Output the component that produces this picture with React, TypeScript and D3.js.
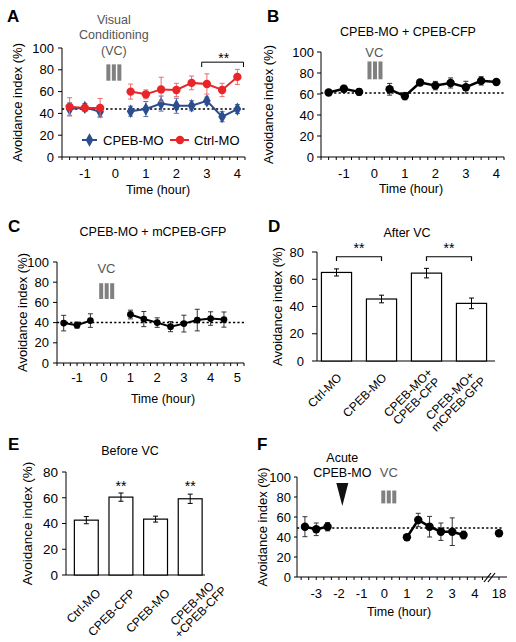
import React from "react";
import * as d3 from "d3";

const FONT = "'Liberation Sans', Arial, Helvetica, sans-serif";
const RED = "#e8262a";
const BLUE = "#2c4d8e";
const GRAY = "#808080";
const TXT_GRAY = "#555555";

// ---------- Panel A ----------
const aTimesPre = [-1.5, -1, -0.5];
const aTimesPost = [0.5, 1, 1.5, 2, 2.5, 3, 3.5, 4];
const aCtrlPre = [46, 45, 45];
const aCtrlPreErr = [8.4, 2.3, 8.7];
const aCtrlPost = [60, 57.5, 62, 61.5, 68, 67, 61.5, 73.5];
const aCtrlPostErr = [6.9, 4.1, 11.2, 6.1, 6.3, 9.3, 6.1, 6.9];
const aCpebPre = [44, 45.5, 41.5];
const aCpebPreErr = [5.7, 3.5, 4.6];
const aCpebPost = [42, 44, 49, 47, 47, 51.5, 37, 44];
const aCpebPostErr = [4.6, 6.9, 6.9, 6.9, 4.6, 3.5, 4.6, 4.1];
const aBaseline = 44;
const aXLabels = [-1, 0, 1, 2, 3, 4];

// ---------- Panel B ----------
const bTimesPre = [-1.5, -1, -0.5];
const bTimesPost = [0.5, 1, 1.5, 2, 2.5, 3, 3.5, 4];
const bPre = [61.5, 65, 62];
const bPreErr = [2, 3.2, 3.2];
const bPost = [64.5, 58, 71, 68, 70.5, 66.5, 72.5, 71.5];
const bPostErr = [5.6, 3.5, 2.4, 4, 4.8, 5.6, 4, 1.5];
const bBaseline = 61;
const bXLabels = [-1, 0, 1, 2, 3, 4];

// ---------- Panel C ----------
const cTimesPre = [-1.5, -1, -0.5];
const cTimesPost = [1, 1.5, 2, 2.5, 3, 3.5, 4, 4.5];
const cPre = [39.5, 37.5, 42];
const cPreErr = [7.7, 3, 6.7];
const cPost = [48, 43.5, 40, 36, 39, 42.5, 44, 43];
const cPostErr = [4.3, 7.5, 4.7, 5, 8.3, 10.7, 6.7, 7.5];
const cBaseline = 40;
const cXLabels = [-1, 0, 1, 2, 3, 4, 5];

// ---------- Panel D ----------
const dCats = ["Ctrl-MO", "CPEB-MO", "CPEB-MO+CPEB-CFP", "CPEB-MO+mCPEB-GFP"];
const dLabelLines = [["Ctrl-MO"], ["CPEB-MO"], ["CPEB-MO+", "CPEB-CFP"], ["CPEB-MO+", "mCPEB-GFP"]];
const dVals = [65, 45.5, 64.5, 42.3];
const dErrs = [2.6, 2.8, 3.5, 3.9];
const dSigPairs = [[0, 1], [2, 3]];

// ---------- Panel E ----------
const eCats = ["Ctrl-MO", "CPEB-CFP", "CPEB-MO", "CPEB-MO+CPEB-CFP"];
const eLabelLines = [["Ctrl-MO"], ["CPEB-CFP"], ["CPEB-MO"], ["CPEB-MO", "+CPEB-CFP"]];
const eVals = [42.6, 60.5, 43.4, 59.2];
const eErrs = [2.8, 3.2, 2.3, 3.6];
const eSig = [1, 3];

// ---------- Panel F ----------
const fTimesPre = [-3.5, -3, -2.5];
const fTimesPost = [1, 1.5, 2, 2.5, 3, 3.5];
const fTimesLate = [18];
const fPre = [50.3, 47.7, 50.3];
const fPreErr = [10, 6.3, 4.2];
const fPost = [39.7, 57, 50.3, 45.3, 45.3, 42];
const fPostErr = [2.8, 6.7, 10.3, 8.7, 13.8, 3.8];
const fLate = [43.7];
const fLateErr = [2.5];
const fBaseline = 49;
const fXLabels = [-3, -2, -1, 0, 1, 2, 3, 4, 18];
const fAcuteTime = -1.85;

const yTicks100 = [0, 20, 40, 60, 80, 100];
const yTicks80 = [0, 20, 40, 60, 80];

type Seg = { t: number[]; v: number[]; e: number[] };

let measureCtx: CanvasRenderingContext2D | null = null;
function textWidth(s: string, fs: number) {
  if (!measureCtx) measureCtx = document.createElement("canvas").getContext("2d");
  if (!measureCtx) return s.length * fs * 0.6;
  measureCtx.font = `${fs}px 'Liberation Sans', Arial, sans-serif`;
  return measureCtx.measureText(s).width;
}

function YAxis({ x0, y, ticks, tickLen, gap, fs = 13 }: any) {
  const d = y.domain();
  return (
    <g>
      <line x1={x0} x2={x0} y1={y(d[0])} y2={y(d[1])} stroke="#000" strokeWidth={1} />
      {ticks.map((t: number) => (
        <g key={t}>
          <line x1={x0 - tickLen} x2={x0} y1={y(t)} y2={y(t)} stroke="#000" strokeWidth={1} />
          <text x={x0 - tickLen - gap} y={y(t)} dy="0.36em" textAnchor="end" fontSize={fs}>
            {t}
          </text>
        </g>
      ))}
    </g>
  );
}

function XTimeAxis({ x, y0, x0, x1, minor, labels, labelDy, tickLen = 3, fs = 13 }: any) {
  return (
    <g>
      <line x1={x0} x2={x1} y1={y0} y2={y0} stroke="#000" strokeWidth={1} />
      {minor.map((t: number, i: number) => (
        <line key={i} x1={x(t)} x2={x(t)} y1={y0} y2={y0 + tickLen} stroke="#000" strokeWidth={1} />
      ))}
      {labels.map((t: number) => (
        <text key={t} x={x(t)} y={y0 + labelDy} textAnchor="middle" fontSize={fs}>
          {t}
        </text>
      ))}
    </g>
  );
}

function YTitle({ x, y, fs = 13 }: any) {
  return (
    <text transform={`translate(${x},${y}) rotate(-90)`} dy="0.35em" textAnchor="middle" fontSize={fs}>
      Avoidance index (%)
    </text>
  );
}

function Series({ segs, x, y, color, errColor, lw, marker, r }: any) {
  const line = d3
    .line<[number, number]>()
    .x((d) => x(d[0]))
    .y((d) => y(d[1]));
  const diamond = d3.symbol().type(d3.symbolDiamond).size(r * r * 3.2)() as string;
  return (
    <g>
      {segs.map((s: Seg, si: number) => {
        const pts: [number, number][] = s.t.map((t, i) => [t, s.v[i]]);
        return (
          <g key={si}>
            {s.t.map((t, i) => {
              const cx = x(t);
              const lo = y(s.v[i] - s.e[i]);
              const hi = y(s.v[i] + s.e[i]);
              return (
                <g key={i} stroke={errColor} strokeWidth={1}>
                  <line x1={cx} x2={cx} y1={lo} y2={hi} />
                  <line x1={cx - 2.5} x2={cx + 2.5} y1={lo} y2={lo} />
                  <line x1={cx - 2.5} x2={cx + 2.5} y1={hi} y2={hi} />
                </g>
              );
            })}
            {pts.length > 1 && <path d={line(pts) as string} fill="none" stroke={color} strokeWidth={lw} />}
            {pts.map((p, i) =>
              marker === "diamond" ? (
                <path key={i} d={diamond} transform={`translate(${x(p[0])},${y(p[1])})`} fill={color} />
              ) : (
                <circle key={i} cx={x(p[0])} cy={y(p[1])} r={r} fill={color} />
              )
            )}
          </g>
        );
      })}
    </g>
  );
}

function Dotted({ x0, x1, yv }: any) {
  return <line x1={x0} x2={x1} y1={yv} y2={yv} stroke="#000" strokeWidth={1.5} strokeDasharray="2.2 2.2" />;
}

function VCBars({ cx, yTop, yBot }: any) {
  return (
    <g fill={GRAY}>
      {[-1, 0, 1].map((k) => (
        <rect key={k} x={cx + k * 5.5 - 2} y={yTop} width={4} height={yBot - yTop} />
      ))}
    </g>
  );
}

function BarPanel({ cats, lines, vals, errs, x, y, axisX0, axisX1, tickLen, gap, ldx, ldy, mdx, mdy, lh, fs = 12, tfs = 13 }: any) {
  const y0 = y(0);
  const bw = x.bandwidth();
  return (
    <g>
      <line x1={axisX0} x2={axisX1} y1={y0} y2={y0} stroke="#000" strokeWidth={1} />
      <YAxis x0={axisX0} y={y} ticks={yTicks80} tickLen={tickLen} gap={gap} fs={tfs} />
      {cats.map((c: string, i: number) => {
        const bx = x(c);
        const cx = bx + bw / 2;
        const top = y(vals[i]);
        const lo = y(vals[i] - errs[i]);
        const hi = y(vals[i] + errs[i]);
        const ls: string[] = lines[i];
        const n = ls.length;
        const widths = ls.map((s) => textWidth(s, fs));
        const maxW = Math.max(...widths);
        const ax = cx + ldx + (n > 1 ? mdx : 0);
        const ay = y0 + ldy + (n > 1 ? mdy : 0);
        return (
          <g key={c}>
            <rect x={bx} y={top} width={bw} height={y0 - top} fill="#fff" stroke="#000" strokeWidth={1.2} />
            <g stroke="#000" strokeWidth={1}>
              <line x1={cx} x2={cx} y1={lo} y2={hi} />
              <line x1={cx - 2.5} x2={cx + 2.5} y1={lo} y2={lo} />
              <line x1={cx - 2.5} x2={cx + 2.5} y1={hi} y2={hi} />
            </g>
            <g transform={`translate(${ax},${ay}) rotate(-45)`}>
              {ls.map((ln: string, j: number) => (
                <text
                  key={j}
                  x={-(maxW - widths[j]) / 2}
                  y={(j - (n - 1) / 2) * lh}
                  dy="0.35em"
                  textAnchor="end"
                  fontSize={fs}
                >
                  {ln}
                </text>
              ))}
            </g>
          </g>
        );
      })}
    </g>
  );
}

export default function App() {
  // scales
  const xA = d3.scaleLinear().domain([-1.75, 4.25]).range([62, 245]);
  const yA = d3.scaleLinear().domain([0, 100]).range([157, 48]);
  const xB = d3.scaleLinear().domain([-1.75, 4.25]).range([321, 504]);
  const yB = d3.scaleLinear().domain([0, 100]).range([157, 52]);
  const xC = d3.scaleLinear().domain([-1.75, 5.25]).range([57, 244]);
  const yC = d3.scaleLinear().domain([0, 100]).range([363, 262]);
  const xD = d3.scaleBand<string>().domain(dCats).range([314, 494]).paddingInner(0.33).paddingOuter(0.165);
  const yD = d3.scaleLinear().domain([0, 80]).range([361, 252]);
  const xE = d3.scaleBand<string>().domain(eCats).range([69, 207.5]).paddingInner(0.31).paddingOuter(0.155);
  const yE = d3.scaleLinear().domain([0, 80]).range([575, 472]);
  const xF = d3.scaleLinear().domain([-3.85, 4.6, 17.6, 18.4]).range([297, 488.5, 490, 508]);
  const yF = d3.scaleLinear().domain([0, 100]).range([577, 477]);

  const minorA = d3.range(-1.75, 4.26, 0.25);
  const minorB = d3.range(-1.75, 4.26, 0.25);
  const minorC = d3.range(-1.75, 5.26, 0.25);
  const minorF = d3.range(-11, 14).map((k) => k / 3).concat([18]);

  const dC = (c: string) => (xD(c) as number) + xD.bandwidth() / 2;
  const eC = (c: string) => (xE(c) as number) + xE.bandwidth() / 2;

  const letter = (t: string, x: number, y: number) => (
    <text x={x} y={y} fontSize={17} fontWeight="bold">
      {t}
    </text>
  );

  return (
    <svg
      width={516}
      height={642}
      style={{ position: "absolute", left: 0, top: 0, display: "block" }}
      fontFamily={FONT}
    >
      <rect width={516} height={642} fill="#fff" />

      {/* ===== Panel A ===== */}
      {letter("A", 7, 22)}
      <g fill={TXT_GRAY} fontSize={12.5} textAnchor="middle">
        <text x={xA(-0.05)} y={23.5}>Visual</text>
        <text x={xA(-0.05)} y={38.5}>Conditioning</text>
        <text x={xA(-0.05)} y={54.5}>(VC)</text>
      </g>
      <VCBars cx={xA(-0.05)} yTop={yA(85)} yBot={yA(70)} />
      <YTitle x={17} y={yA(50)} />
      <YAxis x0={62} y={yA} ticks={yTicks100} tickLen={4} gap={4} />
      <XTimeAxis x={xA} y0={yA(0)} x0={62} x1={245} minor={minorA} labels={aXLabels} labelDy={20.5} />
      <text x={158} y={193.5} textAnchor="middle" fontSize={12.5}>Time (hour)</text>
      <Dotted x0={62} x1={246} yv={yA(aBaseline)} />
      <Series
        segs={[
          { t: aTimesPre, v: aCpebPre, e: aCpebPreErr },
          { t: aTimesPost, v: aCpebPost, e: aCpebPostErr },
        ]}
        x={xA} y={yA} color={BLUE} errColor="#5a74a8" lw={2} marker="diamond" r={4}
      />
      <Series
        segs={[
          { t: aTimesPre, v: aCtrlPre, e: aCtrlPreErr },
          { t: aTimesPost, v: aCtrlPost, e: aCtrlPostErr },
        ]}
        x={xA} y={yA} color={RED} errColor="#ee6a6a" lw={2} marker="circle" r={4.2}
      />
      {/* significance bracket */}
      <path
        d={`M${xA(2.83)},${yA(82.5)}V${yA(87)}H${xA(4.2)}V${yA(82.5)}`}
        fill="none" stroke="#000" strokeWidth={1}
      />
      <text x={xA(3.55)} y={62.5} textAnchor="middle" fontSize={14}>**</text>
      {/* legend */}
      <line x1={82} x2={97} y1={140} y2={140} stroke={BLUE} strokeWidth={2} />
      <path d={d3.symbol().type(d3.symbolDiamond).size(51)() as string} transform="translate(89.5,140)" fill={BLUE} />
      <text x={103} y={144.5} fontSize={13}>CPEB-MO</text>
      <line x1={170} x2={189} y1={140} y2={140} stroke={RED} strokeWidth={2} />
      <circle cx={180} cy={140} r={4.2} fill={RED} />
      <text x={194} y={144.5} fontSize={13}>Ctrl-MO</text>

      {/* ===== Panel B ===== */}
      {letter("B", 267, 22)}
      <text x={408} y={36} textAnchor="middle" fontSize={12.5}>CPEB-MO + CPEB-CFP</text>
      <text x={xB(0)} y={56.5} textAnchor="middle" fontSize={13} fill={TXT_GRAY}>VC</text>
      <VCBars cx={xB(0.02)} yTop={yB(91)} yBot={yB(74)} />
      <YTitle x={268} y={yB(50)} />
      <YAxis x0={321} y={yB} ticks={yTicks100} tickLen={4} gap={3} />
      <XTimeAxis x={xB} y0={yB(0)} x0={321} x1={504} minor={minorB} labels={bXLabels} labelDy={20.5} />
      <text x={411} y={192.5} textAnchor="middle" fontSize={12.5}>Time (hour)</text>
      <Dotted x0={321} x1={504} yv={yB(bBaseline)} />
      <Series
        segs={[
          { t: bTimesPre, v: bPre, e: bPreErr },
          { t: bTimesPost, v: bPost, e: bPostErr },
        ]}
        x={xB} y={yB} color="#000" errColor="#333" lw={2.5} marker="circle" r={4.2}
      />

      {/* ===== Panel C ===== */}
      {letter("C", 8, 232)}
      <text x={153} y={236} textAnchor="middle" fontSize={12.5}>CPEB-MO + mCPEB-GFP</text>
      <text x={xC(0.1)} y={272.5} textAnchor="middle" fontSize={13} fill={TXT_GRAY}>VC</text>
      <VCBars cx={xC(0.11)} yTop={yC(79)} yBot={yC(63.4)} />
      <YTitle x={22} y={yC(50)} />
      <YAxis x0={57} y={yC} ticks={yTicks100} tickLen={4} gap={4} />
      <XTimeAxis x={xC} y0={yC(0)} x0={57} x1={244} minor={minorC} labels={cXLabels} labelDy={18.5} />
      <text x={163} y={402.5} textAnchor="middle" fontSize={12.5}>Time (hour)</text>
      <Dotted x0={57} x1={245} yv={yC(cBaseline)} />
      <Series
        segs={[
          { t: cTimesPre, v: cPre, e: cPreErr },
          { t: cTimesPost, v: cPost, e: cPostErr },
        ]}
        x={xC} y={yC} color="#000" errColor="#333" lw={2} marker="circle" r={3.4}
      />

      {/* ===== Panel D ===== */}
      {letter("D", 268, 232)}
      <text x={407} y={237} textAnchor="middle" fontSize={12.5}>After VC</text>
      <YTitle x={277} y={yD(40)} />
      <BarPanel
        cats={dCats} lines={dLabelLines} vals={dVals} errs={dErrs} x={xD} y={yD}
        axisX0={317} axisX1={495} tickLen={5} gap={8} ldx={3} ldy={14.5} mdx={5} mdy={-1} lh={12} fs={12} tfs={13}
      />
      {dSigPairs.map(([a, b], i) => (
        <g key={i}>
          <path
            d={`M${dC(dCats[a])},${yD(73.4)}V${yD(76.5)}H${dC(dCats[b])}V${yD(73.4)}`}
            fill="none" stroke="#000" strokeWidth={1.2}
          />
          <text x={(dC(dCats[a]) + dC(dCats[b])) / 2} y={252.5} textAnchor="middle" fontSize={14}>**</text>
        </g>
      ))}

      {/* ===== Panel E ===== */}
      {letter("E", 8, 450)}
      <text x={130} y={455} textAnchor="middle" fontSize={12.5}>Before VC</text>
      <YTitle x={27} y={yE(40)} fs={13.5} />
      <BarPanel
        cats={eCats} lines={eLabelLines} vals={eVals} errs={eErrs} x={xE} y={yE}
        axisX0={66} axisX1={205} tickLen={4} gap={4} ldx={12} ldy={16} mdx={18} mdy={-7} lh={12} fs={12} tfs={13.5}
      />
      {eSig.map((i) => (
        <text key={i} x={eC(eCats[i])} y={490.5} textAnchor="middle" fontSize={14}>**</text>
      ))}

      {/* ===== Panel F ===== */}
      {letter("F", 257, 450)}
      <g textAnchor="middle" fontSize={12.5}>
        <text x={xF(fAcuteTime)} y={462}>Acute</text>
        <text x={xF(fAcuteTime)} y={477}>CPEB-MO</text>
      </g>
      <path
        d={`M${xF(fAcuteTime) - 6},${yF(94)}H${xF(fAcuteTime) + 6}L${xF(fAcuteTime)},${yF(71)}Z`}
        fill="#111"
      />
      <text x={xF(0.2)} y={477} textAnchor="middle" fontSize={13} fill={TXT_GRAY}>VC</text>
      <VCBars cx={xF(0.2)} yTop={yF(86.5)} yBot={yF(73.6)} />
      <YTitle x={262} y={yF(50)} />
      <YAxis x0={297} y={yF} ticks={yTicks100} tickLen={3} gap={3} />
      <XTimeAxis x={xF} y0={yF(0)} x0={297} x1={507} minor={minorF} labels={fXLabels} labelDy={20.5} />
      <g stroke="#000" strokeWidth={1.2}>
        <line x1={484} x2={491} y1={yF(0) + 5} y2={yF(0) - 4} />
        <line x1={488} x2={495} y1={yF(0) + 5} y2={yF(0) - 4} />
      </g>
      <text x={399} y={616} textAnchor="middle" fontSize={12.5}>Time (hour)</text>
      <Dotted x0={297} x1={502} yv={yF(fBaseline)} />
      <Series
        segs={[
          { t: fTimesPre, v: fPre, e: fPreErr },
          { t: fTimesPost, v: fPost, e: fPostErr },
          { t: fTimesLate, v: fLate, e: fLateErr },
        ]}
        x={xF} y={yF} color="#000" errColor="#333" lw={2.5} marker="circle" r={4.2}
      />
    </svg>
  );
}
